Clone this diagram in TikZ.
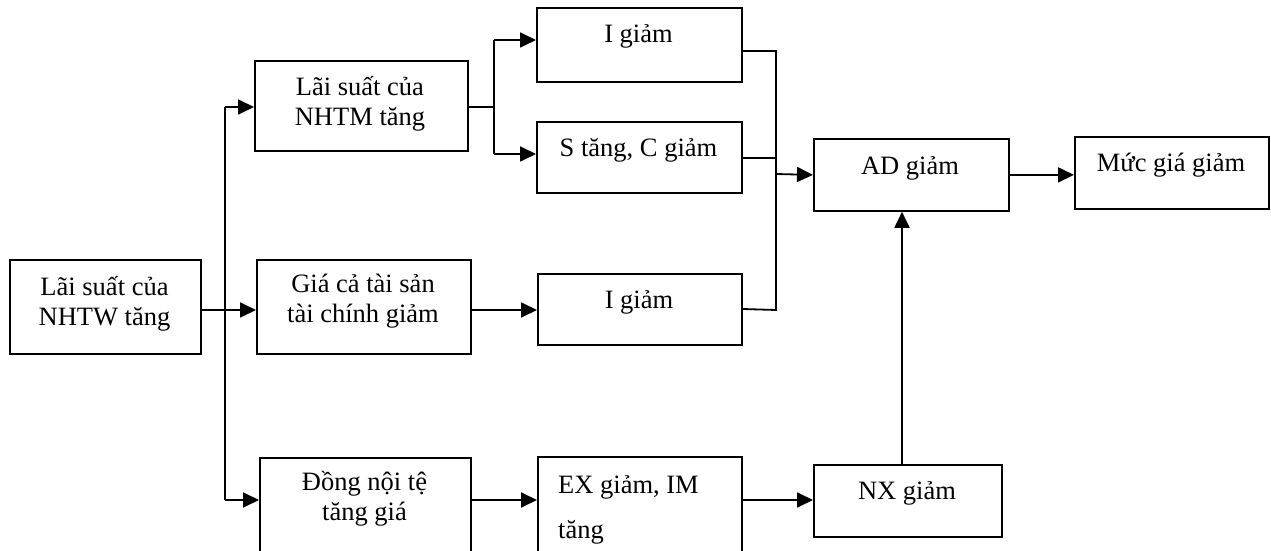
\documentclass[tikz,border=0pt]{standalone}
\usepackage{fontspec}
\setmainfont{Liberation Serif}
\usetikzlibrary{arrows.meta}
\begin{document}
\begin{tikzpicture}[x=1bp,y=-1bp,
  box/.style={draw, line width=1.8bp, rectangle, inner sep=0pt, anchor=north west},
  lbl/.style={font=\fontsize{26.5bp}{30bp}\selectfont, inner sep=0pt},
  conn/.style={line width=1.8bp},
  arr/.style={conn, -{Triangle[length=16bp,width=15bp]}}]
\useasboundingbox (0,0) rectangle (1271,551);
\clip (0,0) rectangle (1271,551);
\fill[white] (0,0) rectangle (1271,551);
% boxes
\node[box, minimum width=191bp, minimum height=94bp] (nhtw) at (9,259) {};
\node[box, minimum width=213bp, minimum height=90bp] (nhtm) at (254,60) {};
\node[box, minimum width=214bp, minimum height=94bp] (gia) at (256,259) {};
\node[box, minimum width=211bp, minimum height=110bp] (dong) at (259,457) {};
\node[box, minimum width=205bp, minimum height=74bp] (ig1) at (536,7) {};
\node[box, minimum width=205bp, minimum height=71bp] (st) at (536,121) {};
\node[box, minimum width=204bp, minimum height=71bp] (ig2) at (537,273) {};
\node[box, minimum width=204bp, minimum height=110bp] (ex) at (537,456) {};
\node[box, minimum width=195bp, minimum height=72bp] (ad) at (813,138) {};
\node[box, minimum width=188bp, minimum height=72bp] (nx) at (813,464) {};
\node[box, minimum width=194bp, minimum height=72bp] (muc) at (1074,136) {};
% texts
\node[lbl, align=center] (nhtw-t) at (104.5,304) {Lãi suất của\\NHTW tăng};
\node[lbl, align=center] (nhtm-t) at (360,104) {Lãi suất của\\NHTM tăng};
\node[lbl, align=center] (gia-t) at (363,301) {Giá cả tài sản\\tài chính giảm};
\node[lbl, align=center] (dong-t) at (364.5,499) {Đồng nội tệ\\tăng giá};
\node[lbl, anchor=base] (ig1-t) at (638.5,43) {I giảm};
\node[lbl, anchor=base] (st-t) at (638.5,157) {S tăng, C giảm};
\node[lbl, anchor=base] (ig2-t) at (639,309) {I giảm};
\node[lbl, anchor=base west] (ex-t1) at (558,493) {EX giảm, IM};
\node[lbl, anchor=base west] (ex-t2) at (558,538) {tăng};
\node[lbl, anchor=base] (ad-t) at (910,175) {AD giảm};
\node[lbl, anchor=base] (nx-t) at (907,499) {NX giảm};
\node[lbl, anchor=base] (muc-t) at (1171,172) {Mức giá giảm};
% helper coordinates
\coordinate (tr) at (225,310);
\coordinate (trtop) at (225,107);
\coordinate (trbot) at (225,500);
\coordinate (b1) at (494,107);
\coordinate (b1top) at (494,40);
\coordinate (b1bot) at (494,154);
\coordinate (c1) at (776,51);
\coordinate (c2) at (776,158);
\coordinate (c3) at (776,310);
\coordinate (c) at (776,174);
\coordinate (vx) at (902,0);
% connectors
\draw[arr] (nhtw.east |- tr) -- (gia.west |- tr);
\draw[conn] (trtop) -- (trbot);
\draw[arr] (trtop) -- (nhtm.west |- trtop);
\draw[arr] (trbot) -- (dong.west |- trbot);
\draw[conn] (nhtm.east |- b1) -- (b1);
\draw[conn] (b1top) -- (b1bot);
\draw[arr] (b1top) -- (ig1.west |- b1top);
\draw[arr] (b1bot) -- (st.west |- b1bot);
\draw[arr] (gia.east |- tr) -- (ig2.west |- tr);
\draw[conn] (ig1.east |- c1) -- (c1) -- (c3) -- ([yshift=1bp]ig2.east |- c3);
\draw[conn] (st.east |- c2) -- (c2);
\draw[arr] (c) -- (ad.west);
\draw[arr] (ad.east) -- (muc.west |- ad.east);
\draw[arr] (nx.north -| vx) -- (ad.south -| vx);
\draw[arr] (dong.east |- trbot) -- (ex.west |- trbot);
\draw[arr] (ex.east |- trbot) -- (nx.west |- trbot);
\end{tikzpicture}
\end{document}
